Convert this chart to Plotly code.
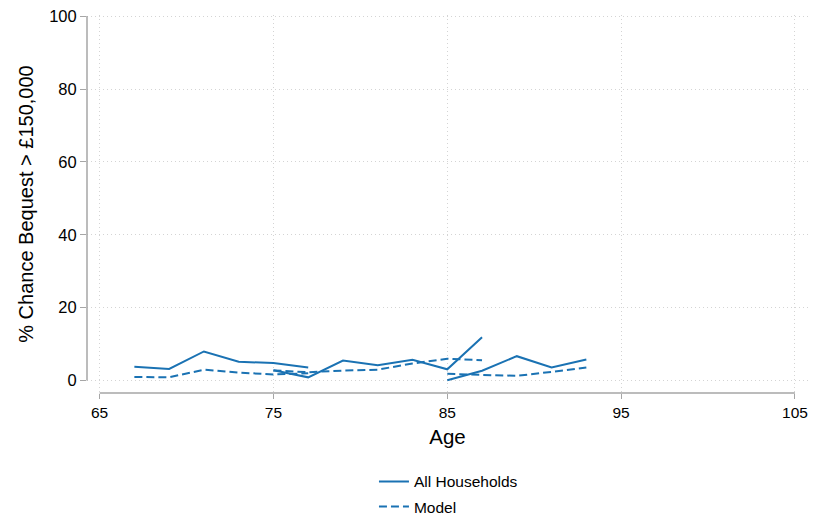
import plotly.graph_objects as go

# Data: three cohorts, observed (All Households) and Model
ages_c1 = [67, 69, 71, 73, 75, 77]
obs_c1 = [3.8, 3.2, 8.0, 5.2, 4.8, 3.6]
mod_c1 = [1.0, 0.9, 3.0, 2.2, 1.7, 2.0]

ages_c2 = [75, 77, 79, 81, 83, 85, 87]
obs_c2 = [2.85, 0.9, 5.5, 4.2, 5.7, 3.1, 11.9]
mod_c2 = [2.8, 2.3, 2.75, 3.0, 4.7, 6.0, 5.6]

ages_c3 = [85, 87, 89, 91, 93]
obs_c3 = [0.1, 2.7, 6.7, 3.6, 5.8]
mod_c3 = [1.85, 1.5, 1.3, 2.4, 3.6]

x_ticks = [65, 75, 85, 95, 105]
y_ticks = [0, 20, 40, 60, 80, 100]

color = "#1a72b3"
fig = go.Figure()

cohorts = [(ages_c1, obs_c1, mod_c1), (ages_c2, obs_c2, mod_c2), (ages_c3, obs_c3, mod_c3)]
for i, (a, o, m) in enumerate(cohorts):
    fig.add_trace(go.Scatter(x=a, y=o, mode="lines", name="All Households",
                             legendgroup="obs", showlegend=(i == 0),
                             line=dict(color=color, width=2)))
for i, (a, o, m) in enumerate(cohorts):
    fig.add_trace(go.Scatter(x=a, y=m, mode="lines", name="Model",
                             legendgroup="mod", showlegend=(i == 0),
                             line=dict(color=color, width=2, dash="8px,4px")))

axis_gray = "#a6a6a6"
grid_col = "#d4d4d4"
font_family = "Liberation Sans, Arial, sans-serif"

fig.update_layout(
    width=810, height=512,
    margin=dict(l=79, r=10, t=7, b=127, autoexpand=False),
    paper_bgcolor="white", plot_bgcolor="white",
    font=dict(family=font_family, color="#000000", size=15),
    showlegend=True,
    legend=dict(orientation="v", x=0.398, xanchor="left", y=-0.19, yanchor="top",
                font=dict(size=15.5), tracegroupgap=2, itemwidth=30),
    xaxis=dict(range=[64.275, 105.75], tickvals=x_ticks, ticks="outside", ticklen=5,
               tickcolor=axis_gray, tickwidth=1.2, showline=False, zeroline=False,
               showgrid=True, gridcolor=grid_col, griddash="1px,3px", gridwidth=1,
               tickfont=dict(size=15.5), automargin=False, ticklabeloverflow="allow",
               title=dict(text="Age", font=dict(size=20.5), standoff=10)),
    yaxis=dict(range=[-3.4, 100.3], tickvals=y_ticks, ticks="outside", ticklen=6,
               tickcolor=axis_gray, tickwidth=1.2, showline=False, zeroline=False,
               showgrid=True, gridcolor=grid_col, griddash="1px,3px", gridwidth=1,
               tickfont=dict(size=16.5), automargin=False, ticklabeloverflow="allow",
               title=dict(text="% Chance Bequest > £150,000", font=dict(size=20), standoff=10)),
    shapes=[
        dict(type="line", xref="x", yref="paper", x0=x_ticks[0], x1=x_ticks[-1], y0=0, y1=0,
             line=dict(color=axis_gray, width=1.5), layer="above"),
        dict(type="line", xref="paper", yref="y", x0=0, x1=0, y0=y_ticks[0], y1=y_ticks[-1],
             line=dict(color=axis_gray, width=1.5), layer="above"),
    ],
)

fig.write_html("out.html")
